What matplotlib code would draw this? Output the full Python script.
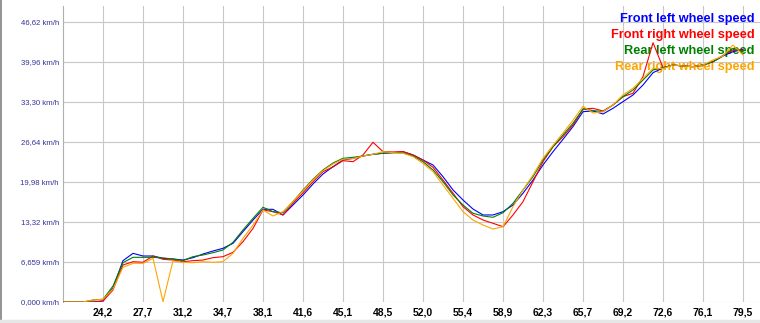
import numpy as np
import matplotlib
matplotlib.use('Agg')
import matplotlib.pyplot as plt
from matplotlib.lines import Line2D

# time (s) of each sample
t = [20.74, 21.60, 22.47, 23.33, 24.20, 25.06, 25.92, 26.79, 27.65, 28.52,
     29.38, 30.24, 31.11, 31.97, 32.84, 33.70, 34.56, 35.43, 36.29, 37.16,
     38.02, 38.88, 39.75, 40.61, 41.48, 42.34, 43.20, 44.07, 44.93, 45.80,
     46.66, 47.52, 48.39, 49.25, 50.12, 50.98, 51.84, 52.71, 53.57, 54.44,
     55.30, 56.16, 57.03, 57.89, 58.76, 59.62, 60.48, 61.35, 62.21, 63.08,
     63.94, 64.80, 65.67, 66.53, 67.40, 68.26, 69.12, 69.99, 70.85, 71.72,
     72.58, 73.44, 74.31, 75.17, 76.04, 76.90, 77.76, 78.63, 79.49]

front_left = [0, 0, 0, 0, 0.17, 2.33, 6.88, 8.10, 7.66, 7.66,
              7.28, 7.16, 6.99, 7.38, 7.99, 8.49, 8.94, 9.77, 11.71, 13.65,
              15.43, 15.43, 14.49, 16.15, 17.82, 19.65, 21.31, 22.53, 23.64, 23.91,
              24.31, 24.59, 24.76, 24.86, 25.03, 24.48, 23.64, 22.81, 20.87, 18.65,
              16.98, 15.48, 14.49, 14.49, 15.04, 16.15, 18.10, 20.31, 22.81, 25.03,
              27.09, 29.19, 31.69, 31.80, 31.30, 32.25, 33.35, 34.47, 36.13, 38.18,
              38.96, 39.46, 39.29, 39.18, 39.46, 40.01, 40.96, 41.67, 42.07]

front_right = [0, 0, 0, 0, 0.17, 2.00, 6.16, 6.71, 6.61, 7.66,
               7.11, 6.99, 6.71, 6.88, 6.99, 7.38, 7.54, 8.27, 10.04, 12.26,
               15.32, 15.04, 14.49, 16.43, 18.20, 20.03, 21.70, 22.48, 23.53, 23.36,
               24.48, 26.59, 25.03, 24.98, 25.03, 24.48, 23.64, 22.42, 20.31, 18.10,
               15.87, 14.49, 13.65, 13.10, 12.54, 14.49, 16.70, 20.03, 23.36, 25.86,
               27.53, 29.47, 32.13, 32.25, 31.80, 32.80, 34.19, 34.75, 37.52, 43.17,
               39.01, 39.46, 39.29, 39.18, 39.46, 40.01, 41.05, 41.96, 41.96]

rear_left = [0, 0, 0, 0.33, 0.45, 2.66, 6.54, 7.44, 7.44, 7.44,
             7.33, 7.16, 6.88, 7.55, 7.83, 8.21, 8.66, 9.94, 11.99, 13.94,
             15.77, 15.04, 14.87, 16.70, 18.65, 20.43, 21.98, 23.14, 23.92, 24.09,
             24.31, 24.59, 24.76, 24.86, 24.81, 24.31, 23.36, 21.98, 20.03, 17.82,
             16.15, 14.77, 14.32, 14.10, 14.87, 16.43, 18.65, 20.87, 23.64, 25.86,
             27.81, 29.75, 32.13, 31.88, 31.68, 32.80, 34.19, 35.30, 36.96, 38.63,
             39.01, 39.46, 39.29, 39.18, 39.46, 40.01, 40.96, 42.24, 41.67]

rear_right = [0, 0, 0, 0.33, 0.45, 2.16, 5.77, 6.44, 6.44, 7.27,
              0.05, 6.83, 6.61, 6.55, 6.71, 6.61, 6.71, 8.10, 10.60, 12.82,
              15.32, 14.32, 15.04, 16.70, 18.53, 20.31, 21.86, 22.98, 23.76, 23.89,
              24.31, 24.59, 25.03, 24.86, 24.76, 24.20, 23.09, 21.70, 19.48, 17.26,
              15.04, 13.65, 12.82, 12.15, 12.54, 15.87, 18.65, 21.14, 23.92, 26.09,
              28.14, 30.25, 32.58, 31.47, 31.68, 32.80, 34.47, 35.58, 37.24, 38.90,
              38.87, 39.46, 39.29, 39.18, 39.46, 40.29, 40.96, 42.79, 41.13]

series_names = ["Front left wheel speed", "Front right wheel speed",
                "Rear left wheel speed", "Rear right wheel speed"]
series_colors = ["#0000ff", "#ff0000", "#008000", "#ffa500"]

xtick_labels = ["24,2", "27,7", "31,2", "34,7", "38,1", "41,6", "45,1", "48,5", "52,0",
                "55,4", "58,9", "62,3", "65,7", "69,2", "72,6", "76,1", "79,5"]
ytick_labels = ["0,000 km/h", "6,659 km/h", "13,32 km/h", "19,98 km/h",
                "26,64 km/h", "33,30 km/h", "39,96 km/h", "46,62 km/h"]

W, H = 760, 323
fig = plt.figure(figsize=(W / 100, H / 100), dpi=100)
ax = fig.add_axes([63 / W, (H - 302) / H, 697 / W, 296 / H])

for ys, c in zip([front_left, front_right, rear_left, rear_right], series_colors):
    ax.plot(t, ys, color=c, lw=0.8, zorder=3)

ax.set_xlim(20.74, 80.96)
ax.set_ylim(0, 49.28)

ax.set_xticks(np.linspace(24.196, 79.496, 17))
ax.set_xticklabels(xtick_labels, fontsize=7.5, fontweight='bold',
                   family=['Liberation Sans Narrow', 'Liberation Sans', 'DejaVu Sans'])
ax.set_yticks(np.arange(8) * 6.66)
ax.set_yticklabels(ytick_labels, fontsize=5.6, color='#333399',
                   family=['Liberation Sans', 'DejaVu Sans'])
ax.tick_params(axis='both', length=0)
ax.tick_params(axis='x', pad=4)
ax.tick_params(axis='y', pad=3)

ax.grid(True, color='#c8c8c8', lw=0.8, zorder=0)
ax.set_axisbelow(True)
for s in ['top', 'right', 'bottom']:
    ax.spines[s].set_visible(False)
ax.spines['left'].set_color('#b0b0b0')
ax.spines['left'].set_linewidth(0.8)

# legend texts, top right, under the lines
for i, (name, c) in enumerate(zip(series_names, series_colors)):
    ypix = 19 + 16 * i
    ax.text(692 / 697, (302 - ypix) / 296, name, color=c, fontsize=9.2,
            fontweight='bold', ha='right', va='center', transform=ax.transAxes,
            family=['Liberation Sans', 'DejaVu Sans'], zorder=1)

# frame lines of the window
fig.add_artist(Line2D([0.5 / W, 0.5 / W], [0, 1], color='#808080', lw=1.2))
fig.add_artist(Line2D([0, 1], [2.5 / H, 2.5 / H], color='#e6e6e6', lw=2.5))

fig.savefig('out.png', dpi=100)
